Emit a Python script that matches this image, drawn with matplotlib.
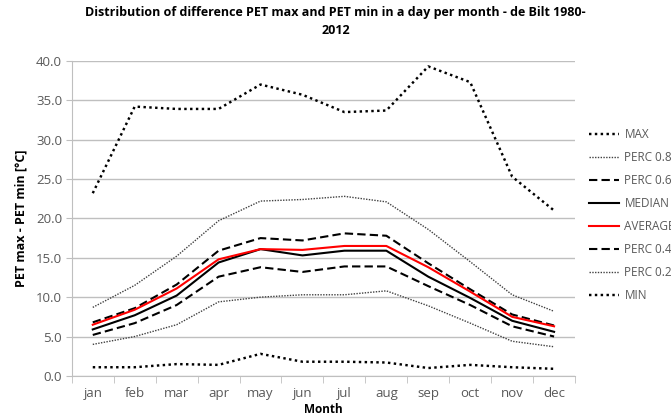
import matplotlib; matplotlib.use('agg')
import matplotlib.pyplot as plt
import numpy as np

months = ['jan', 'feb', 'mar', 'apr', 'may', 'jun', 'jul', 'aug', 'sep', 'oct', 'nov', 'dec']
v_max = [23.2, 34.2, 33.9, 33.9, 37.0, 35.7, 33.5, 33.7, 39.3, 37.3, 25.3, 21.0]
perc80 = [8.7, 11.5, 15.2, 19.7, 22.2, 22.4, 22.8, 22.1, 18.6, 14.5, 10.3, 8.2]
perc60 = [6.8, 8.6, 11.6, 15.9, 17.5, 17.2, 18.1, 17.8, 14.3, 11.0, 7.8, 6.4]
median = [5.9, 7.7, 10.2, 14.4, 16.1, 15.3, 15.9, 15.9, 12.6, 9.9, 7.0, 5.6]
average = [6.5, 8.4, 11.1, 14.8, 16.1, 16.0, 16.5, 16.5, 13.8, 10.7, 7.5, 6.3]
perc40 = [5.2, 6.7, 9.0, 12.6, 13.8, 13.2, 13.9, 13.9, 11.4, 9.0, 6.3, 5.0]
perc20 = [4.0, 5.0, 6.5, 9.4, 10.0, 10.3, 10.3, 10.8, 8.9, 6.7, 4.4, 3.7]
v_min = [1.1, 1.1, 1.5, 1.4, 2.8, 1.8, 1.8, 1.7, 1.0, 1.4, 1.1, 0.9]

plt.rcParams['font.family'] = ['Open Sans', 'DejaVu Sans']
grijs = '#595959'

fig = plt.figure(figsize=(6.71, 4.2), dpi=100)
ax = fig.add_axes([0.107, 0.105, 0.75, 0.75])
x = np.arange(len(months))

#Reihen
ax.plot(x, v_max, color='black', ls=(0, (1, 1.4)), lw=1.75, label='MAX')
ax.plot(x, perc80, color='#404040', ls=(0, (1, 1)), lw=1, label='PERC 0.8')
ax.plot(x, perc60, color='black', ls=(0, (4, 2)), lw=1.5, label='PERC 0.6')
ax.plot(x, median, color='black', ls='-', lw=1.5, label='MEDIAN')
ax.plot(x, average, color='#ff0000', ls='-', lw=1.5, label='AVERAGE')
ax.plot(x, perc40, color='black', ls=(0, (4, 2)), lw=1.5, label='PERC 0.4')
ax.plot(x, perc20, color='#404040', ls=(0, (1, 1)), lw=1, label='PERC 0.2')
ax.plot(x, v_min, color='black', ls=(0, (1, 1.4)), lw=1.75, label='MIN')

ax.set_xlim(-0.5, 11.5)
ax.set_ylim(0, 40)
ax.set_yticks(np.arange(0, 40.1, 5))
ax.set_yticklabels(['%.1f' % v for v in np.arange(0, 40.1, 5)])
ax.set_xticks(x)
ax.set_xticklabels(months)
ax.set_xticks(np.arange(-0.5, 12, 1), minor=True)
ax.tick_params(axis='x', which='major', length=0, pad=8, labelsize=9.5, labelcolor=grijs)
ax.tick_params(axis='x', which='minor', length=5, color='#bfbfbf', direction='out')
ax.tick_params(axis='y', length=4, color='#bfbfbf', labelsize=9.5, labelcolor=grijs, pad=3)

ax.grid(axis='y', color='#bfbfbf', lw=1)
ax.set_axisbelow(True)
for s in ['top', 'right']:
    ax.spines[s].set_visible(False)
ax.spines['left'].set_color('#bfbfbf')
ax.spines['bottom'].set_color('#bfbfbf')

ax.set_xlabel('Month', fontsize=8.5, fontweight='bold', labelpad=2)
ax.set_ylabel('PET max - PET min [°C]', fontsize=9, fontweight='bold', labelpad=6)

fig.text(0.5, 0.985, 'Distribution of difference PET max and PET min in a day per month - de Bilt 1980-\n2012',
         ha='center', va='top', fontsize=9, fontweight='bold', linespacing=1.5)

# legende rechts, wird wie im original am rand abgeschnitten
fig.legend(loc='upper left', bbox_to_anchor=(0.862, 0.72), frameon=False, fontsize=8.5,
           handlelength=2.5, handletextpad=0.5, labelspacing=0.85, labelcolor=grijs)

plt.savefig('out.png', dpi=100)
